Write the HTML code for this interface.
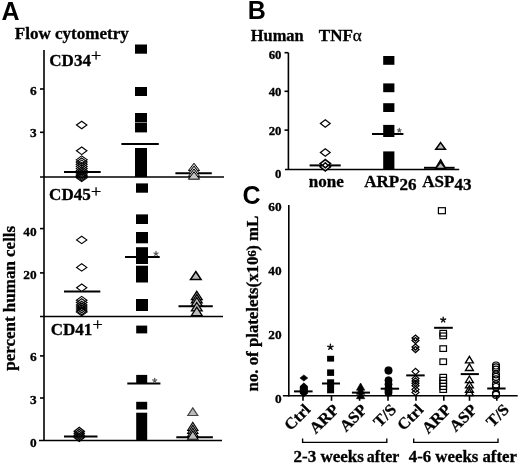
<!DOCTYPE html>
<html><head><meta charset="utf-8"><style>
html,body{margin:0;padding:0;background:#fff;}
svg{display:block;filter:grayscale(1) blur(0.35px);}
</style></head><body>
<svg width="520" height="467" viewBox="0 0 520 467">
<rect width="520" height="467" fill="#fff"/>
<line x1="44" y1="50" x2="44" y2="441" stroke="#000" stroke-width="1.6"/>
<line x1="40" y1="177" x2="224" y2="177" stroke="#000" stroke-width="1.6"/>
<line x1="40" y1="316.5" x2="223" y2="316.5" stroke="#000" stroke-width="1.6"/>
<line x1="39" y1="440.5" x2="222" y2="440.5" stroke="#000" stroke-width="1.6"/>
<line x1="40" y1="89" x2="44" y2="89" stroke="#000" stroke-width="1.6"/>
<line x1="40" y1="132.3" x2="44" y2="132.3" stroke="#000" stroke-width="1.6"/>
<line x1="40" y1="228.6" x2="44" y2="228.6" stroke="#000" stroke-width="1.6"/>
<line x1="40" y1="272.9" x2="44" y2="272.9" stroke="#000" stroke-width="1.6"/>
<line x1="40" y1="355.9" x2="44" y2="355.9" stroke="#000" stroke-width="1.6"/>
<line x1="40" y1="398" x2="44" y2="398" stroke="#000" stroke-width="1.6"/>
<line x1="288.4" y1="52.7" x2="288.4" y2="170" stroke="#000" stroke-width="1.6"/>
<line x1="285" y1="169.5" x2="459.2" y2="169.5" stroke="#000" stroke-width="1.6"/>
<line x1="284.5" y1="52.7" x2="288.4" y2="52.7" stroke="#000" stroke-width="1.6"/>
<line x1="284.5" y1="91.3" x2="288.4" y2="91.3" stroke="#000" stroke-width="1.6"/>
<line x1="284.5" y1="130.1" x2="288.4" y2="130.1" stroke="#000" stroke-width="1.6"/>
<line x1="288.8" y1="205.1" x2="288.8" y2="396.5" stroke="#000" stroke-width="1.6"/>
<line x1="282.9" y1="395.8" x2="517.7" y2="395.8" stroke="#000" stroke-width="1.6"/>
<line x1="303" y1="395.8" x2="303" y2="400.8" stroke="#000" stroke-width="1.6"/>
<line x1="331.5" y1="395.8" x2="331.5" y2="400.8" stroke="#000" stroke-width="1.6"/>
<line x1="359.6" y1="395.8" x2="359.6" y2="400.8" stroke="#000" stroke-width="1.6"/>
<line x1="388" y1="395.8" x2="388" y2="400.8" stroke="#000" stroke-width="1.6"/>
<line x1="416" y1="395.8" x2="416" y2="400.8" stroke="#000" stroke-width="1.6"/>
<line x1="443.8" y1="395.8" x2="443.8" y2="400.8" stroke="#000" stroke-width="1.6"/>
<line x1="469.5" y1="395.8" x2="469.5" y2="400.8" stroke="#000" stroke-width="1.6"/>
<line x1="496.8" y1="395.8" x2="496.8" y2="400.8" stroke="#000" stroke-width="1.6"/>
<line x1="64" y1="172" x2="100.7" y2="172" stroke="#000" stroke-width="2.0"/>
<line x1="121.4" y1="144.1" x2="158.8" y2="144.1" stroke="#000" stroke-width="2.0"/>
<line x1="175.4" y1="173.2" x2="211.8" y2="173.2" stroke="#000" stroke-width="2.0"/>
<line x1="64" y1="291.6" x2="100.3" y2="291.6" stroke="#000" stroke-width="2.0"/>
<line x1="125" y1="257.1" x2="159.7" y2="257.1" stroke="#000" stroke-width="2.0"/>
<line x1="178.5" y1="306.2" x2="212.8" y2="306.2" stroke="#000" stroke-width="2.0"/>
<line x1="64" y1="436.6" x2="97.5" y2="436.6" stroke="#000" stroke-width="2.0"/>
<line x1="127.3" y1="383.6" x2="160.4" y2="383.6" stroke="#000" stroke-width="2.0"/>
<line x1="176.3" y1="437.2" x2="212.9" y2="437.2" stroke="#000" stroke-width="2.0"/>
<line x1="309.6" y1="165.4" x2="340.7" y2="165.4" stroke="#000" stroke-width="2.0"/>
<line x1="372" y1="134" x2="403.4" y2="134" stroke="#000" stroke-width="2.0"/>
<line x1="424" y1="167.8" x2="454.6" y2="167.8" stroke="#000" stroke-width="2.0"/>
<line x1="294" y1="391.4" x2="312.6" y2="391.4" stroke="#000" stroke-width="2.0"/>
<line x1="322" y1="383.5" x2="340" y2="383.5" stroke="#000" stroke-width="2.0"/>
<line x1="351.9" y1="392.6" x2="370" y2="392.6" stroke="#000" stroke-width="2.0"/>
<line x1="380.7" y1="388.7" x2="399.1" y2="388.7" stroke="#000" stroke-width="2.0"/>
<line x1="406.2" y1="375.4" x2="424.7" y2="375.4" stroke="#000" stroke-width="2.0"/>
<line x1="434.1" y1="327.8" x2="452.8" y2="327.8" stroke="#000" stroke-width="2.0"/>
<line x1="460.7" y1="374.1" x2="478.9" y2="374.1" stroke="#000" stroke-width="2.0"/>
<line x1="487.2" y1="388.5" x2="505.6" y2="388.5" stroke="#000" stroke-width="2.0"/>
<text transform="translate(1.5,19.9)" font-family='"Liberation Sans", sans-serif' font-size="25" font-weight="bold" text-anchor="start" >A</text>
<text transform="translate(14.8,39.2) scale(1.065,1)" font-family='"Liberation Serif", serif' font-size="16" font-weight="bold" text-anchor="start" stroke="#000" stroke-width="0.3" >Flow cytometry</text>
<text transform="translate(14.9,298.3) rotate(-90) scale(1.03,1)" font-family='"Liberation Serif", serif' font-size="16.5" font-weight="bold" text-anchor="middle" stroke="#000" stroke-width="0.3" >percent human cells</text>
<text transform="translate(36.6,95) scale(1.065,1)" font-family='"Liberation Serif", serif' font-size="12.5" font-weight="bold" text-anchor="end" stroke="#000" stroke-width="0.3" >6</text>
<text transform="translate(36.6,137) scale(1.065,1)" font-family='"Liberation Serif", serif' font-size="12.5" font-weight="bold" text-anchor="end" stroke="#000" stroke-width="0.3" >3</text>
<text transform="translate(36.6,235.7) scale(1.065,1)" font-family='"Liberation Serif", serif' font-size="12.5" font-weight="bold" text-anchor="end" stroke="#000" stroke-width="0.3" >40</text>
<text transform="translate(36.6,278.6) scale(1.065,1)" font-family='"Liberation Serif", serif' font-size="12.5" font-weight="bold" text-anchor="end" stroke="#000" stroke-width="0.3" >20</text>
<text transform="translate(36.6,361.4) scale(1.065,1)" font-family='"Liberation Serif", serif' font-size="12.5" font-weight="bold" text-anchor="end" stroke="#000" stroke-width="0.3" >6</text>
<text transform="translate(36.6,404) scale(1.065,1)" font-family='"Liberation Serif", serif' font-size="12.5" font-weight="bold" text-anchor="end" stroke="#000" stroke-width="0.3" >3</text>
<text transform="translate(36.6,447) scale(1.065,1)" font-family='"Liberation Serif", serif' font-size="12.5" font-weight="bold" text-anchor="end" stroke="#000" stroke-width="0.3" >0</text>
<text transform="translate(49.3,66) scale(1.065,1)" font-family='"Liberation Serif", serif' font-size="16" font-weight="bold" text-anchor="start" stroke="#000" stroke-width="0.3" >CD34</text>
<text transform="translate(91.1,61.4) scale(1.065,1)" font-family='"Liberation Serif", serif' font-size="17" font-weight="normal" text-anchor="start" stroke="#000" stroke-width="0.35">+</text>
<text transform="translate(49.1,200) scale(1.065,1)" font-family='"Liberation Serif", serif' font-size="16" font-weight="bold" text-anchor="start" stroke="#000" stroke-width="0.3" >CD45</text>
<text transform="translate(90.9,196.7) scale(1.065,1)" font-family='"Liberation Serif", serif' font-size="17" font-weight="normal" text-anchor="start" stroke="#000" stroke-width="0.35">+</text>
<text transform="translate(50.7,335.3) scale(1.065,1)" font-family='"Liberation Serif", serif' font-size="16" font-weight="bold" text-anchor="start" stroke="#000" stroke-width="0.3" >CD41</text>
<text transform="translate(92.5,329.5) scale(1.065,1)" font-family='"Liberation Serif", serif' font-size="17" font-weight="normal" text-anchor="start" stroke="#000" stroke-width="0.35">+</text>
<path d="M76.2,159.8 L81.7,155.8 L87.2,159.8 L81.7,163.8 Z" fill="none" stroke="#000" stroke-width="1.05"/>
<path d="M76.2,162.0 L81.7,158.0 L87.2,162.0 L81.7,166.0 Z" fill="none" stroke="#000" stroke-width="1.05"/>
<path d="M76.2,164.2 L81.7,160.2 L87.2,164.2 L81.7,168.2 Z" fill="none" stroke="#000" stroke-width="1.05"/>
<path d="M76.2,166.4 L81.7,162.4 L87.2,166.4 L81.7,170.4 Z" fill="none" stroke="#000" stroke-width="1.05"/>
<path d="M76.2,168.6 L81.7,164.6 L87.2,168.6 L81.7,172.6 Z" fill="none" stroke="#000" stroke-width="1.05"/>
<path d="M76.2,170.6 L81.7,166.6 L87.2,170.6 L81.7,174.6 Z" fill="none" stroke="#000" stroke-width="1.05"/>
<path d="M76.2,172.2 L81.7,168.2 L87.2,172.2 L81.7,176.2 Z" fill="none" stroke="#000" stroke-width="1.05"/>
<path d="M76.2,173.8 L81.7,169.8 L87.2,173.8 L81.7,177.8 Z" fill="none" stroke="#000" stroke-width="1.05"/>
<path d="M76.2,175.2 L81.7,171.2 L87.2,175.2 L81.7,179.2 Z" fill="none" stroke="#000" stroke-width="1.05"/>
<path d="M76.2,176.5 L81.7,172.5 L87.2,176.5 L81.7,180.5 Z" fill="none" stroke="#000" stroke-width="1.05"/>
<path d="M76.2,177.7 L81.7,173.7 L87.2,177.7 L81.7,181.7 Z" fill="none" stroke="#000" stroke-width="1.05"/>
<path d="M76.5,150.8 L81.7,147.0 L86.9,150.8 L81.7,154.60000000000002 Z" fill="#fff" stroke="#000" stroke-width="1.15"/>
<path d="M76.5,125 L81.7,121.2 L86.9,125 L81.7,128.8 Z" fill="#fff" stroke="#000" stroke-width="1.15"/>
<rect x="135" y="44.5" width="12" height="9.200000000000003" fill="#000" stroke="none" stroke-width="0"/>
<rect x="135" y="87" width="12" height="9" fill="#000" stroke="none" stroke-width="0"/>
<rect x="135" y="113" width="12" height="9.5" fill="#000" stroke="none" stroke-width="0"/>
<rect x="135" y="123" width="12" height="9.400000000000006" fill="#000" stroke="none" stroke-width="0"/>
<rect x="135" y="148" width="12" height="29" fill="#000" stroke="none" stroke-width="0"/>
<path d="M194,163.2 L199.6,170.6 L188.4,170.6 Z" fill="#c4c4c4" stroke="#000" stroke-width="1.0" stroke-linejoin="miter"/>
<path d="M194,166.1 L199.6,173.5 L188.4,173.5 Z" fill="#c4c4c4" stroke="#000" stroke-width="1.0" stroke-linejoin="miter"/>
<path d="M194,169.0 L199.6,176.4 L188.4,176.4 Z" fill="#c4c4c4" stroke="#000" stroke-width="1.0" stroke-linejoin="miter"/>
<path d="M194,171.8 L199.6,179.20000000000002 L188.4,179.20000000000002 Z" fill="#c4c4c4" stroke="#000" stroke-width="1.0" stroke-linejoin="miter"/>
<path d="M76.4,300.2 L81.7,296.4 L87.0,300.2 L81.7,304.0 Z" fill="none" stroke="#000" stroke-width="1.1"/>
<path d="M76.4,302.5 L81.7,298.7 L87.0,302.5 L81.7,306.3 Z" fill="none" stroke="#000" stroke-width="1.1"/>
<path d="M76.4,305.0 L81.7,301.2 L87.0,305.0 L81.7,308.8 Z" fill="none" stroke="#000" stroke-width="1.1"/>
<path d="M76.4,307.0 L81.7,303.2 L87.0,307.0 L81.7,310.8 Z" fill="none" stroke="#000" stroke-width="1.1"/>
<path d="M76.4,309.0 L81.7,305.2 L87.0,309.0 L81.7,312.8 Z" fill="none" stroke="#000" stroke-width="1.1"/>
<path d="M76.4,311.0 L81.7,307.2 L87.0,311.0 L81.7,314.8 Z" fill="none" stroke="#000" stroke-width="1.1"/>
<path d="M76.4,312.1 L81.7,308.3 L87.0,312.1 L81.7,315.90000000000003 Z" fill="none" stroke="#000" stroke-width="1.1"/>
<path d="M76.60000000000001,287.7 L81.7,284.0 L86.8,287.7 L81.7,291.4 Z" fill="#fff" stroke="#000" stroke-width="1.15"/>
<path d="M76.60000000000001,267.4 L81.7,263.7 L86.8,267.4 L81.7,271.09999999999997 Z" fill="#fff" stroke="#000" stroke-width="1.15"/>
<path d="M76.60000000000001,239.9 L81.7,236.20000000000002 L86.8,239.9 L81.7,243.6 Z" fill="#fff" stroke="#000" stroke-width="1.15"/>
<rect x="136" y="183.4" width="12" height="9.299999999999983" fill="#000" stroke="none" stroke-width="0"/>
<rect x="136" y="214.4" width="12" height="9.599999999999994" fill="#000" stroke="none" stroke-width="0"/>
<rect x="136" y="232" width="12" height="11.300000000000011" fill="#000" stroke="none" stroke-width="0"/>
<rect x="136" y="247.2" width="12" height="16.80000000000001" fill="#000" stroke="none" stroke-width="0"/>
<rect x="136" y="265.7" width="12" height="16.80000000000001" fill="#000" stroke="none" stroke-width="0"/>
<rect x="136" y="299" width="12" height="12" fill="#000" stroke="none" stroke-width="0"/>
<path d="M156.00,253.70 L156.00,251.45 M156.00,253.70 L158.14,253.00 M156.00,253.70 L157.32,255.52 M156.00,253.70 L154.68,255.52 M156.00,253.70 L153.86,253.00 " stroke="#555" stroke-width="1.2" stroke-linecap="round" fill="none"/>
<path d="M196.8,291.3 L202.20000000000002,299.7 L191.4,299.7 Z" fill="#bbb" stroke="#000" stroke-width="1.3" stroke-linejoin="miter"/>
<path d="M196.8,294.4 L202.20000000000002,302.79999999999995 L191.4,302.79999999999995 Z" fill="#bbb" stroke="#000" stroke-width="1.3" stroke-linejoin="miter"/>
<path d="M196.8,297.5 L202.20000000000002,305.9 L191.4,305.9 Z" fill="#bbb" stroke="#000" stroke-width="1.3" stroke-linejoin="miter"/>
<path d="M196.8,302.5 L202.20000000000002,310.9 L191.4,310.9 Z" fill="#bbb" stroke="#000" stroke-width="1.3" stroke-linejoin="miter"/>
<path d="M196.8,307.2 L202.20000000000002,315.59999999999997 L191.4,315.59999999999997 Z" fill="#bbb" stroke="#000" stroke-width="1.3" stroke-linejoin="miter"/>
<path d="M195.8,271.5 L201.10000000000002,279.5 L190.5,279.5 Z" fill="#bbb" stroke="#000" stroke-width="1.5" stroke-linejoin="miter"/>
<path d="M74.25,431.3 L79.25,427.3 L84.25,431.3 L79.25,435.3 Z" fill="none" stroke="#000" stroke-width="1.4"/>
<path d="M74.25,433.3 L79.25,429.3 L84.25,433.3 L79.25,437.3 Z" fill="none" stroke="#000" stroke-width="1.4"/>
<path d="M74.25,435.3 L79.25,431.3 L84.25,435.3 L79.25,439.3 Z" fill="none" stroke="#000" stroke-width="1.4"/>
<path d="M74.25,437.4 L79.25,433.4 L84.25,437.4 L79.25,441.4 Z" fill="none" stroke="#000" stroke-width="1.4"/>
<rect x="136.2" y="325.6" width="11.0" height="7.7999999999999545" fill="#000" stroke="none" stroke-width="0"/>
<rect x="136.2" y="374.9" width="11.0" height="8.400000000000034" fill="#000" stroke="none" stroke-width="0"/>
<rect x="136.2" y="401.8" width="11.0" height="7.699999999999989" fill="#000" stroke="none" stroke-width="0"/>
<rect x="136.2" y="412.7" width="11.0" height="27.80000000000001" fill="#000" stroke="none" stroke-width="0"/>
<path d="M154.70,380.50 L154.70,378.35 M154.70,380.50 L156.74,379.84 M154.70,380.50 L155.96,382.24 M154.70,380.50 L153.44,382.24 M154.70,380.50 L152.66,379.84 " stroke="#555" stroke-width="1.2" stroke-linecap="round" fill="none"/>
<path d="M192.8,422.3 L198.0,430.5 L187.60000000000002,430.5 Z" fill="#bbb" stroke="#000" stroke-width="1.1" stroke-linejoin="miter"/>
<path d="M192.8,425.3 L198.0,433.5 L187.60000000000002,433.5 Z" fill="#bbb" stroke="#000" stroke-width="1.1" stroke-linejoin="miter"/>
<path d="M192.8,428.3 L198.0,436.5 L187.60000000000002,436.5 Z" fill="#bbb" stroke="#000" stroke-width="1.1" stroke-linejoin="miter"/>
<path d="M192.8,431 L198.0,439.2 L187.60000000000002,439.2 Z" fill="#bbb" stroke="#000" stroke-width="1.1" stroke-linejoin="miter"/>
<path d="M192.8,407.9 L197.8,415.5 L187.8,415.5 Z" fill="#bbb" stroke="#444" stroke-width="1.2" stroke-linejoin="miter"/>
<text transform="translate(247.7,18.8)" font-family='"Liberation Sans", sans-serif' font-size="25" font-weight="bold" text-anchor="start" >B</text>
<text transform="translate(250.8,40.5) scale(1.025,1)" font-family='"Liberation Serif", serif' font-size="16" font-weight="bold" text-anchor="start" stroke="#000" stroke-width="0.3" >Human</text>
<text transform="translate(318.8,40.5) scale(1.065,1)" font-family='"Liberation Serif", serif' font-size="16" font-weight="bold" text-anchor="start" stroke="#000" stroke-width="0.3" >TNF<tspan font-weight="normal">&#945;</tspan></text>
<text transform="translate(281.5,58.7) scale(1.065,1)" font-family='"Liberation Serif", serif' font-size="12" font-weight="bold" text-anchor="end" stroke="#000" stroke-width="0.3" >60</text>
<text transform="translate(281.5,96) scale(1.065,1)" font-family='"Liberation Serif", serif' font-size="12" font-weight="bold" text-anchor="end" stroke="#000" stroke-width="0.3" >40</text>
<text transform="translate(281.5,135.2) scale(1.065,1)" font-family='"Liberation Serif", serif' font-size="12" font-weight="bold" text-anchor="end" stroke="#000" stroke-width="0.3" >20</text>
<text transform="translate(281.5,177.6) scale(1.065,1)" font-family='"Liberation Serif", serif' font-size="12" font-weight="bold" text-anchor="end" stroke="#000" stroke-width="0.3" >0</text>
<path d="M320.1,166.8 L325.3,162.70000000000002 L330.5,166.8 L325.3,170.9 Z" fill="#fff" stroke="#000" stroke-width="1.6"/>
<path d="M320.1,163.6 L325.3,159.5 L330.5,163.6 L325.3,167.7 Z" fill="#fff" stroke="#000" stroke-width="1.6"/>
<path d="M322.6,165.2 L325.3,162.7 L328.0,165.2 L325.3,167.7 Z" fill="#fff" stroke="#000" stroke-width="1.3"/>
<path d="M320.40000000000003,152.5 L325.3,148.7 L330.2,152.5 L325.3,156.3 Z" fill="#fff" stroke="#000" stroke-width="1.2"/>
<path d="M320.40000000000003,123.5 L325.3,119.7 L330.2,123.5 L325.3,127.3 Z" fill="#fff" stroke="#000" stroke-width="1.2"/>
<rect x="383.2" y="56" width="11.199999999999989" height="8.799999999999997" fill="#000" stroke="none" stroke-width="0"/>
<rect x="383.2" y="83.4" width="11.199999999999989" height="8.799999999999997" fill="#000" stroke="none" stroke-width="0"/>
<rect x="383.2" y="103.2" width="11.199999999999989" height="8.799999999999997" fill="#000" stroke="none" stroke-width="0"/>
<rect x="383.2" y="124.9" width="11.199999999999989" height="12.099999999999994" fill="#000" stroke="none" stroke-width="0"/>
<rect x="383.2" y="151.4" width="11.199999999999989" height="18.099999999999994" fill="#000" stroke="none" stroke-width="0"/>
<path d="M399.30,130.40 L399.30,128.40 M399.30,130.40 L401.20,129.78 M399.30,130.40 L400.48,132.02 M399.30,130.40 L398.12,132.02 M399.30,130.40 L397.40,129.78 " stroke="#555" stroke-width="1.2" stroke-linecap="round" fill="none"/>
<path d="M440.6,160.0 L445.40000000000003,168.2 L435.8,168.2 Z" fill="#bbb" stroke="#000" stroke-width="1.6" stroke-linejoin="miter"/>
<path d="M440.6,162.4 L445.3,168.4 L435.90000000000003,168.4 Z" fill="#bbb" stroke="#000" stroke-width="1.1" stroke-linejoin="miter"/>
<path d="M440.6,142.6 L445.40000000000003,149.2 L435.8,149.2 Z" fill="#bbb" stroke="#000" stroke-width="1.55" stroke-linejoin="miter"/>
<text transform="translate(308.7,187.3) scale(1.065,1)" font-family='"Liberation Serif", serif' font-size="16" font-weight="bold" text-anchor="start" stroke="#000" stroke-width="0.3" >none</text>
<text transform="translate(364.2,186.6) scale(1.065,1)" font-family='"Liberation Serif", serif' font-size="16" font-weight="bold" text-anchor="start" stroke="#000" stroke-width="0.3" >ARP</text>
<text transform="translate(399.5,190.3) scale(1.065,1)" font-family='"Liberation Serif", serif' font-size="16" font-weight="bold" text-anchor="start" stroke="#000" stroke-width="0.3" >26</text>
<text transform="translate(422.3,186.6) scale(1.065,1)" font-family='"Liberation Serif", serif' font-size="16" font-weight="bold" text-anchor="start" stroke="#000" stroke-width="0.3" >ASP</text>
<text transform="translate(454.6,190.3) scale(1.065,1)" font-family='"Liberation Serif", serif' font-size="16" font-weight="bold" text-anchor="start" stroke="#000" stroke-width="0.3" >43</text>
<text transform="translate(242.6,203.5)" font-family='"Liberation Sans", sans-serif' font-size="25" font-weight="bold" text-anchor="start" >C</text>
<text transform="translate(258.2,303.6) rotate(-90) scale(1.05,1)" font-family='"Liberation Serif", serif' font-size="16" font-weight="bold" text-anchor="middle" stroke="#000" stroke-width="0.3" >no. of platelets(x10<tspan dy="-2.6" font-size="12.5">6</tspan><tspan dy="2.6" dx="-0.6">) mL</tspan></text>
<text transform="translate(281.6,211.4) scale(1.065,1)" font-family='"Liberation Serif", serif' font-size="12.5" font-weight="bold" text-anchor="end" stroke="#000" stroke-width="0.3" >60</text>
<text transform="translate(281.6,275.4) scale(1.065,1)" font-family='"Liberation Serif", serif' font-size="12.5" font-weight="bold" text-anchor="end" stroke="#000" stroke-width="0.3" >40</text>
<text transform="translate(281.6,338.8) scale(1.065,1)" font-family='"Liberation Serif", serif' font-size="12.5" font-weight="bold" text-anchor="end" stroke="#000" stroke-width="0.3" >20</text>
<text transform="translate(281.6,403.2) scale(1.065,1)" font-family='"Liberation Serif", serif' font-size="12.5" font-weight="bold" text-anchor="end" stroke="#000" stroke-width="0.3" >0</text>
<text transform="translate(311.3,410.6) rotate(-45) scale(1.03,1)" font-family='"Liberation Serif", serif' font-size="16" font-weight="bold" text-anchor="end" stroke="#000" stroke-width="0.3" >Ctrl</text>
<text transform="translate(339.8,410.6) rotate(-45) scale(1.03,1)" font-family='"Liberation Serif", serif' font-size="16" font-weight="bold" text-anchor="end" stroke="#000" stroke-width="0.3" >ARP</text>
<text transform="translate(367.90000000000003,410.6) rotate(-45) scale(1.03,1)" font-family='"Liberation Serif", serif' font-size="16" font-weight="bold" text-anchor="end" stroke="#000" stroke-width="0.3" >ASP</text>
<text transform="translate(397.3,410.6) rotate(-45) scale(1.03,1)" font-family='"Liberation Serif", serif' font-size="16" font-weight="bold" text-anchor="end" stroke="#000" stroke-width="0.3" >T/S</text>
<text transform="translate(424.3,410.6) rotate(-45) scale(1.03,1)" font-family='"Liberation Serif", serif' font-size="16" font-weight="bold" text-anchor="end" stroke="#000" stroke-width="0.3" >Ctrl</text>
<text transform="translate(452.1,410.6) rotate(-45) scale(1.03,1)" font-family='"Liberation Serif", serif' font-size="16" font-weight="bold" text-anchor="end" stroke="#000" stroke-width="0.3" >ARP</text>
<text transform="translate(477.8,410.6) rotate(-45) scale(1.03,1)" font-family='"Liberation Serif", serif' font-size="16" font-weight="bold" text-anchor="end" stroke="#000" stroke-width="0.3" >ASP</text>
<text transform="translate(510.1,410.6) rotate(-45) scale(1.03,1)" font-family='"Liberation Serif", serif' font-size="16" font-weight="bold" text-anchor="end" stroke="#000" stroke-width="0.3" >T/S</text>
<path d="M302.6,438.5 L302.6,442.3 L386.8,442.3 L386.8,438.5" fill="none" stroke="#000" stroke-width="1.35"/>
<path d="M413.7,438.5 L413.7,442.3 L498,442.3 L498,438.5" fill="none" stroke="#000" stroke-width="1.35"/>
<text transform="translate(293.5,461.8) scale(1.065,1)" font-family='"Liberation Serif", serif' font-size="16" font-weight="bold" text-anchor="start" stroke="#000" stroke-width="0.3" >2-3 weeks</text>
<text transform="translate(366.8,461.8) scale(0.99,1)" font-family='"Liberation Serif", serif' font-size="16" font-weight="bold" text-anchor="start" stroke="#000" stroke-width="0.3" >after</text>
<text transform="translate(408.8,461.8) scale(1.05,1)" font-family='"Liberation Serif", serif' font-size="16" font-weight="bold" text-anchor="start" stroke="#000" stroke-width="0.3" >4-6 weeks after</text>
<path d="M303.85,382.6 L307.9,386.3 L307.9,393.5 L303.85,397.2 L299.8,393.5 L299.8,386.3 Z" fill="#000"/>
<path d="M299.95000000000005,378 L303.85,374.95 L307.75,378 L303.85,381.05 Z" fill="#000" stroke="#000" stroke-width="0.6"/>
<rect x="327.1" y="355.8" width="7.0" height="5.800000000000011" fill="#000" stroke="none" stroke-width="0"/>
<rect x="327.1" y="369.4" width="7.0" height="6.5" fill="#000" stroke="none" stroke-width="0"/>
<rect x="327.1" y="379.3" width="7.0" height="14.0" fill="#000" stroke="none" stroke-width="0"/>
<path d="M330.40,347.10 L330.40,344.30 M330.40,347.10 L333.06,346.23 M330.40,347.10 L332.05,349.37 M330.40,347.10 L328.75,349.37 M330.40,347.10 L327.74,346.23 " stroke="#111" stroke-width="1.4" stroke-linecap="round" fill="none"/>
<path d="M360.6,383 L364.70000000000005,390.2 L356.5,390.2 Z" fill="#000" stroke="#000" stroke-width="0.7" stroke-linejoin="miter"/>
<path d="M360.6,387 L364.70000000000005,394.2 L356.5,394.2 Z" fill="#000" stroke="#000" stroke-width="0.7" stroke-linejoin="miter"/>
<path d="M360.6,391.5 L364.70000000000005,398.7 L356.5,398.7 Z" fill="#000" stroke="#000" stroke-width="0.7" stroke-linejoin="miter"/>
<circle cx="388.5" cy="380.3" r="3.75" fill="#000" stroke="#000" stroke-width="0.3"/>
<circle cx="388.5" cy="384.3" r="3.75" fill="#000" stroke="#000" stroke-width="0.3"/>
<circle cx="388.5" cy="388.3" r="3.75" fill="#000" stroke="#000" stroke-width="0.3"/>
<circle cx="388.5" cy="390.5" r="3.75" fill="#000" stroke="#000" stroke-width="0.3"/>
<circle cx="388.5" cy="392.8" r="3.75" fill="#000" stroke="#000" stroke-width="0.3"/>
<circle cx="388.5" cy="370.5" r="3.9" fill="#000" stroke="#000" stroke-width="0.3"/>
<path d="M412.1,338.1 L415.5,335.1 L418.9,338.1 L415.5,341.1 Z" fill="none" stroke="#000" stroke-width="1.35"/>
<path d="M412.1,340.6 L415.5,337.6 L418.9,340.6 L415.5,343.6 Z" fill="none" stroke="#000" stroke-width="1.35"/>
<path d="M412.1,347.1 L415.5,344.1 L418.9,347.1 L415.5,350.1 Z" fill="none" stroke="#000" stroke-width="1.35"/>
<path d="M412.1,349.6 L415.5,346.6 L418.9,349.6 L415.5,352.6 Z" fill="none" stroke="#000" stroke-width="1.35"/>
<path d="M412.0,371.6 L415.5,368.40000000000003 L419.0,371.6 L415.5,374.8 Z" fill="none" stroke="#000" stroke-width="1.2"/>
<path d="M412.0,378.6 L415.5,375.5 L419.0,378.6 L415.5,381.70000000000005 Z" fill="none" stroke="#000" stroke-width="1.2"/>
<path d="M412.0,381.0 L415.5,377.9 L419.0,381.0 L415.5,384.1 Z" fill="none" stroke="#000" stroke-width="1.2"/>
<path d="M412.0,383.3 L415.5,380.2 L419.0,383.3 L415.5,386.40000000000003 Z" fill="none" stroke="#000" stroke-width="1.2"/>
<path d="M412.0,385.7 L415.5,382.59999999999997 L419.0,385.7 L415.5,388.8 Z" fill="none" stroke="#000" stroke-width="1.2"/>
<path d="M412.0,389.4 L415.5,386.29999999999995 L419.0,389.4 L415.5,392.5 Z" fill="none" stroke="#000" stroke-width="1.2"/>
<path d="M412.0,392.4 L415.5,389.29999999999995 L419.0,392.4 L415.5,395.5 Z" fill="none" stroke="#000" stroke-width="1.2"/>
<rect x="439.9" y="330.4" width="6.600000000000023" height="5.699999999999989" fill="none" stroke="#000" stroke-width="1.2"/>
<rect x="439.9" y="333.0" width="6.600000000000023" height="5.699999999999989" fill="none" stroke="#000" stroke-width="1.2"/>
<rect x="439.9" y="345.8" width="6.600000000000023" height="5.600000000000023" fill="none" stroke="#000" stroke-width="1.2"/>
<rect x="439.9" y="358.9" width="6.600000000000023" height="5.600000000000023" fill="none" stroke="#000" stroke-width="1.2"/>
<rect x="439.9" y="374.4" width="6.600000000000023" height="6.0" fill="none" stroke="#000" stroke-width="1.2"/>
<rect x="439.9" y="377.4" width="6.600000000000023" height="6.0" fill="none" stroke="#000" stroke-width="1.2"/>
<rect x="439.9" y="380.4" width="6.600000000000023" height="6.0" fill="none" stroke="#000" stroke-width="1.2"/>
<rect x="439.9" y="383.4" width="6.600000000000023" height="6.0" fill="none" stroke="#000" stroke-width="1.2"/>
<rect x="439.9" y="386.4" width="6.600000000000023" height="6.0" fill="none" stroke="#000" stroke-width="1.2"/>
<rect x="438.4" y="207.7" width="7.0" height="6.0" fill="#fff" stroke="#000" stroke-width="1.2"/>
<path d="M443.20,319.80 L443.20,317.20 M443.20,319.80 L445.67,319.00 M443.20,319.80 L444.73,321.90 M443.20,319.80 L441.67,321.90 M443.20,319.80 L440.73,319.00 " stroke="#111" stroke-width="1.4" stroke-linecap="round" fill="none"/>
<path d="M469.4,356.3 L473.34999999999997,362.90000000000003 L465.45,362.90000000000003 Z" fill="none" stroke="#000" stroke-width="1.35" stroke-linejoin="miter"/>
<path d="M469.4,363.9 L473.34999999999997,370.5 L465.45,370.5 Z" fill="none" stroke="#000" stroke-width="1.35" stroke-linejoin="miter"/>
<path d="M469.4,376.0 L473.34999999999997,382.6 L465.45,382.6 Z" fill="none" stroke="#000" stroke-width="1.35" stroke-linejoin="miter"/>
<path d="M469.4,381.3 L473.34999999999997,387.90000000000003 L465.45,387.90000000000003 Z" fill="none" stroke="#000" stroke-width="1.35" stroke-linejoin="miter"/>
<path d="M469.4,385.6 L473.34999999999997,392.20000000000005 L465.45,392.20000000000005 Z" fill="none" stroke="#000" stroke-width="1.35" stroke-linejoin="miter"/>
<path d="M469.4,388.9 L473.34999999999997,395.5 L465.45,395.5 Z" fill="none" stroke="#000" stroke-width="1.35" stroke-linejoin="miter"/>
<circle cx="496" cy="365.5" r="3.5" fill="none" stroke="#000" stroke-width="1.2"/>
<circle cx="496" cy="367.3" r="3.5" fill="none" stroke="#000" stroke-width="1.2"/>
<circle cx="496" cy="369.6" r="3.5" fill="none" stroke="#000" stroke-width="1.2"/>
<circle cx="496" cy="374.3" r="3.5" fill="none" stroke="#000" stroke-width="1.2"/>
<circle cx="496" cy="376.8" r="3.5" fill="none" stroke="#000" stroke-width="1.2"/>
<circle cx="496" cy="379.3" r="3.5" fill="none" stroke="#000" stroke-width="1.2"/>
<circle cx="496" cy="384.4" r="3.5" fill="none" stroke="#000" stroke-width="1.2"/>
<circle cx="496" cy="387.0" r="3.5" fill="none" stroke="#000" stroke-width="1.2"/>
<circle cx="496" cy="393.6" r="3.5" fill="none" stroke="#000" stroke-width="1.2"/>
<circle cx="496" cy="394.9" r="3.5" fill="none" stroke="#000" stroke-width="1.2"/>
</svg>
</body></html>
